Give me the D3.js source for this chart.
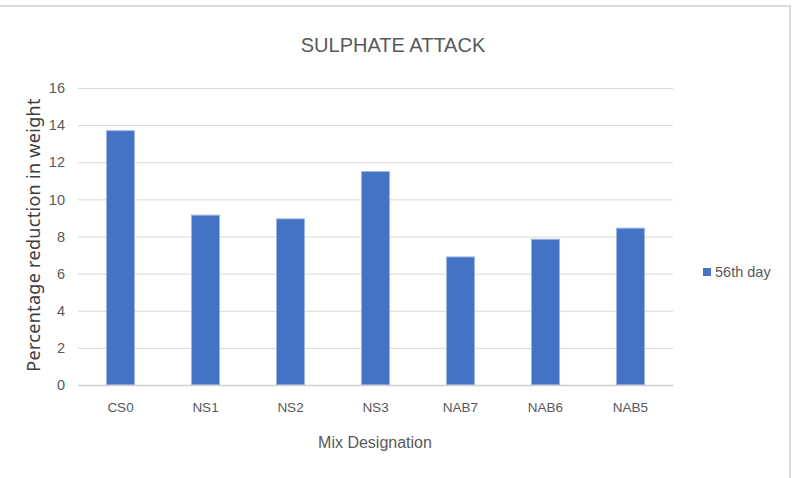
<!DOCTYPE html>
<html lang="en">
<head>
    <meta charset="UTF-8">
    <script src="https://d3js.org/d3.v7.min.js"></script>
    <title>Sulphate Attack</title>
    <style>
        body { margin: 0; background: #fff; }
    </style>
</head>
<body>
    <script>
        // chart data
        var categories = ['CS0', 'NS1', 'NS2', 'NS3', 'NAB7', 'NAB6', 'NAB5'];
        var day56 = [13.7, 9.15, 8.95, 11.5, 6.9, 7.85, 8.45];
        var yTicks = [0, 2, 4, 6, 8, 10, 12, 14, 16];
        var seriesName = '56th day';

        var width = 796;
        var height = 478;
        var plotLeft = 78, plotRight = 673, plotTop = 88, plotBottom = 385;
        var narrowFont = '"Liberation Sans Narrow", "Arial Narrow", "Liberation Sans", sans-serif';

        var svg = d3.select('body')
                    .append('svg')
                    .attr('width', width)
                    .attr('height', height);

        // outer frame (only top and right edges show)
        svg.append('line').attr('x1', 0).attr('x2', 791).attr('y1', 6).attr('y2', 6)
            .attr('stroke', '#d9d9d9').attr('stroke-width', 2);
        svg.append('line').attr('x1', 790).attr('x2', 790).attr('y1', 6).attr('y2', height)
            .attr('stroke', '#d9d9d9').attr('stroke-width', 2);

        var x = d3.scaleBand()
                  .domain(categories)
                  .range([plotLeft, plotRight])
                  .paddingInner(0.67)
                  .paddingOuter(0.335);

        var y = d3.scaleLinear()
                  .domain([0, 16])
                  .range([plotBottom, plotTop]);

        // gridlines
        var grid = d3.axisLeft(y).tickValues(yTicks).tickSize(-(plotRight - plotLeft)).tickFormat('');
        svg.append('g')
            .attr('transform', 'translate(' + plotLeft + ',0)')
            .call(grid)
            .call(function(g) {
                g.select('.domain').remove();
                g.selectAll('line').attr('stroke', '#d9d9d9');
            });

        // y tick labels
        var yAxis = d3.axisLeft(y).tickValues(yTicks).tickSize(0).tickPadding(13);
        svg.append('g')
            .attr('transform', 'translate(' + plotLeft + ',0)')
            .call(yAxis)
            .call(function(g) {
                g.select('.domain').remove();
                g.selectAll('text')
                    .style('font-family', narrowFont)
                    .style('font-size', '14.5px')
                    .attr('fill', '#595959');
            });

        // bars
        svg.selectAll('rect.bar')
            .data(day56)
            .enter()
            .append('rect')
            .attr('class', 'bar')
            .attr('x', function(d, i) { return x(categories[i]); })
            .attr('width', x.bandwidth())
            .attr('y', function(d) { return y(d); })
            .attr('height', function(d) { return y(0) - y(d); })
            .attr('fill', '#4472c4')
            .attr('stroke', '#9fb6e0')
            .attr('stroke-width', 1);

        // x axis
        var xAxis = d3.axisBottom(x).tickSize(0).tickPadding(17);
        svg.append('g')
            .attr('transform', 'translate(0,' + plotBottom + ')')
            .call(xAxis)
            .call(function(g) {
                g.select('.domain').attr('stroke', '#d0d0d0').attr('stroke-width', 1.5);
                g.selectAll('text')
                    .style('font-family', narrowFont)
                    .style('font-size', '13.5px')
                    .attr('fill', '#595959');
            });

        // title
        svg.append('text')
            .attr('x', 393)
            .attr('y', 52)
            .attr('text-anchor', 'middle')
            .style('font-family', narrowFont)
            .style('font-size', '20px')
            .attr('fill', '#595959')
            .text('SULPHATE ATTACK');

        // axis titles
        svg.append('text')
            .attr('transform', 'translate(40,235) rotate(-90)')
            .attr('text-anchor', 'middle')
            .style('font-family', '"Noto Sans", sans-serif')
            .style('font-size', '18px')
            .style('letter-spacing', '0.3px')
            .attr('fill', '#404040')
            .text('Percentage reduction in weight');

        svg.append('text')
            .attr('x', 375)
            .attr('y', 448)
            .attr('text-anchor', 'middle')
            .style('font-family', narrowFont)
            .style('font-size', '16px')
            .attr('fill', '#595959')
            .text('Mix Designation');

        // legend
        var legend = svg.append('g').attr('transform', 'translate(703,268)');
        legend.append('rect')
            .attr('width', 8).attr('height', 8)
            .attr('fill', '#4472c4');
        legend.append('text')
            .attr('x', 12).attr('y', 9)
            .style('font-family', narrowFont)
            .style('font-size', '14.5px')
            .attr('fill', '#595959')
            .text(seriesName);
    </script>
</body>
</html>
